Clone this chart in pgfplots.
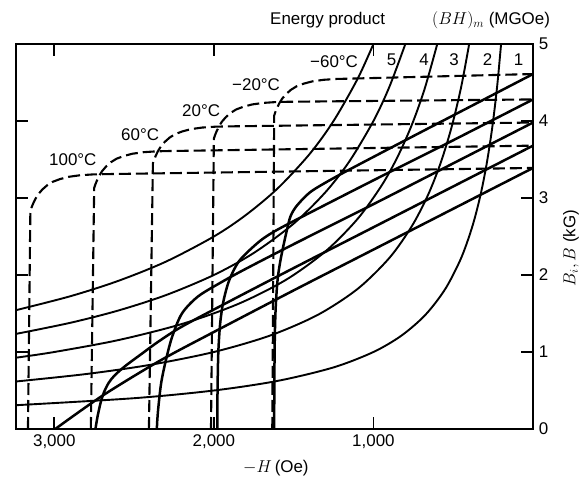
\documentclass[border=0pt]{standalone}
\usepackage{fontspec}
\setmainfont{Liberation Sans}
\usepackage{pgfplots}
\pgfplotsset{compat=1.18}
\pgfplotsset{
  bi/.style={black, line width=2.1bp, dash pattern=on 12bp off 5bp, no marks, line join=round},
  bb/.style={black, line width=2.5bp, no marks, smooth, line join=round},
  hy/.style={black, line width=1.9bp, no marks, smooth},
}
\begin{document}
\fontsize{17}{20}\selectfont
\begin{tikzpicture}
\begin{axis}[
  width=517bp, height=385bp, scale only axis,
  x dir=reverse, xmin=0, xmax=3240, ymin=0, ymax=5,
  xtick={1000,2000,3000}, xticklabels={{1,000},{2,000},{3,000}},
  ytick={0,1,2,3,4,5}, yticklabels={0,1,2,3,4,5},
  xtick pos=both, ytick pos=both,
  xticklabel pos=lower, yticklabel pos=right,
  tick align=inside, major tick length=12bp,
  axis line style={line width=1.8bp},
  tick style={line width=1.6bp, black},
  every tick label/.append style={font=\fontsize{17}{20}\selectfont},
  clip=true,
]
\coordinate (LL) at (axis cs:3240,0);
% intrinsic curves Bi (dashed)
\addplot[bi] coordinates {(3165,0) (3150,2.83) (3142,2.88) (3132,2.93) (3118,2.99) (3100,3.05) (3075,3.11) (3045,3.165) (3010,3.21) (2965,3.245) (2910,3.275) (2840,3.295) (2760,3.306) (2680,3.31) (0,3.39)};
\addplot[bi] coordinates {(2771,0) (2750,3.13) (2742,3.18) (2732,3.23) (2718,3.29) (2700,3.35) (2675,3.41) (2645,3.465) (2610,3.51) (2565,3.545) (2510,3.575) (2440,3.595) (2360,3.606) (2280,3.61) (0,3.68)};
\addplot[bi] coordinates {(2407,0) (2382,3.45) (2374,3.50) (2364,3.55) (2350,3.61) (2332,3.67) (2307,3.73) (2277,3.785) (2242,3.83) (2197,3.865) (2142,3.895) (2072,3.915) (1992,3.926) (1912,3.93) (0,3.98)};
\addplot[bi] coordinates {(2018,0) (2000,3.77) (1992,3.82) (1982,3.87) (1968,3.93) (1950,3.99) (1925,4.05) (1895,4.105) (1860,4.15) (1815,4.185) (1760,4.215) (1690,4.235) (1610,4.246) (1530,4.25) (0,4.28)};
\addplot[bi] coordinates {(1634,0) (1622,4.07) (1614,4.12) (1604,4.17) (1590,4.23) (1572,4.29) (1547,4.35) (1517,4.405) (1482,4.45) (1437,4.485) (1382,4.515) (1312,4.535) (1232,4.546) (1152,4.55) (0,4.61)};
% normal curves B (solid)
\addplot[bb] coordinates {(0,3.39) (500,2.86) (1000,2.33) (1500,1.80) (2000,1.26) (2344,0.88) (2700,0.43) (2994,0)};
\addplot[bb] coordinates {(0,3.68) (500,3.15) (1000,2.62) (1500,2.09) (1900,1.66) (2200,1.33) (2344,1.14) (2450,0.98) (2554,0.82) (2620,0.70) (2659,0.60) (2690,0.47) (2711,0.33) (2730,0.15) (2742,0)};
\addplot[bb] coordinates {(0,3.98) (500,3.45) (1000,2.92) (1500,2.40) (1800,2.08) (1950,1.91) (2100,1.72) (2200,1.50) (2261,1.20) (2300,0.90) (2330,0.60) (2347,0.30) (2355,0.10) (2357,0)};
\addplot[bb] coordinates {(0,4.28) (500,3.75) (1000,3.23) (1500,2.70) (1650,2.53) (1735,2.40) (1842,2.18) (1904,1.93) (1940,1.66) (1960,1.38) (1972,1.0) (1977,0.5) (1978,0)};
\addplot[bb] coordinates {(0,4.61) (400,4.18) (800,3.75) (1150,3.37) (1300,3.20) (1400,3.07) (1480,2.90) (1520,2.76) (1546,2.55) (1580,2.22) (1600,1.95) (1612,1.60) (1618,1.20) (1621,0.60) (1622,0)};
% energy product hyperbolas
\addplot[hy] coordinates {(1000,5) (1100,4.545) (1250,4) (1400,3.571) (1600,3.125) (1800,2.778) (2000,2.5) (2300,2.174) (2600,1.923) (2900,1.724) (3240,1.543)};
\addplot[hy] coordinates {(800,5) (900,4.444) (1000,4) (1150,3.478) (1300,3.077) (1500,2.667) (1750,2.286) (2000,2.0) (2300,1.739) (2600,1.538) (2900,1.379) (3240,1.235)};
\addplot[hy] coordinates {(600,5) (680,4.412) (760,3.947) (850,3.529) (950,3.158) (1100,2.727) (1300,2.308) (1550,1.935) (1850,1.622) (2200,1.364) (2600,1.154) (3000,1.0) (3240,0.926)};
\addplot[hy] coordinates {(400,5) (450,4.444) (510,3.922) (580,3.448) (660,3.030) (760,2.632) (900,2.222) (1100,1.818) (1350,1.481) (1650,1.212) (2000,1.0) (2400,0.833) (2800,0.714) (3240,0.617)};
\addplot[hy] coordinates {(200,5) (225,4.444) (255,3.922) (290,3.448) (330,3.030) (380,2.632) (450,2.222) (550,1.818) (675,1.481) (825,1.212) (1000,1.0) (1250,0.8) (1600,0.625) (2000,0.5) (2500,0.4) (3240,0.309)};
\end{axis}
\pgfresetboundingbox
\begin{scope}[shift={(LL)}]
\begin{scope}[x=1bp, y=1bp, shift={(-16,-50)}]
\path[use as bounding box] (0,0) rectangle (584,479);
\node[anchor=base west, inner sep=0pt] at (270,454) {Energy product};
\node[anchor=base west, inner sep=0pt] at (432,454) {$(BH)_m$ (MGOe)};
\node[anchor=base west, inner sep=0pt] at (49,313) {100°C};
\node[anchor=base west, inner sep=0pt] at (121,338) {60°C};
\node[anchor=base west, inner sep=0pt] at (182,362) {20°C};
\node[anchor=base west, inner sep=0pt] at (232,388) {−20°C};
\node[anchor=base west, inner sep=0pt] at (310,411) {−60°C};
\node[anchor=base, inner sep=0pt] at (391.5,413) {5};
\node[anchor=base, inner sep=0pt] at (424,413) {4};
\node[anchor=base, inner sep=0pt] at (454,413) {3};
\node[anchor=base, inner sep=0pt] at (487.5,413) {2};
\node[anchor=base, inner sep=0pt] at (518.5,413) {1};
\node[anchor=base west, inner sep=0pt] at (243,6) {$-H\,$(Oe)};
\node[rotate=90, inner sep=0pt] at (571,231) {$B_i,B$ (kG)};
\end{scope}
\end{scope}
\end{tikzpicture}
\end{document}
